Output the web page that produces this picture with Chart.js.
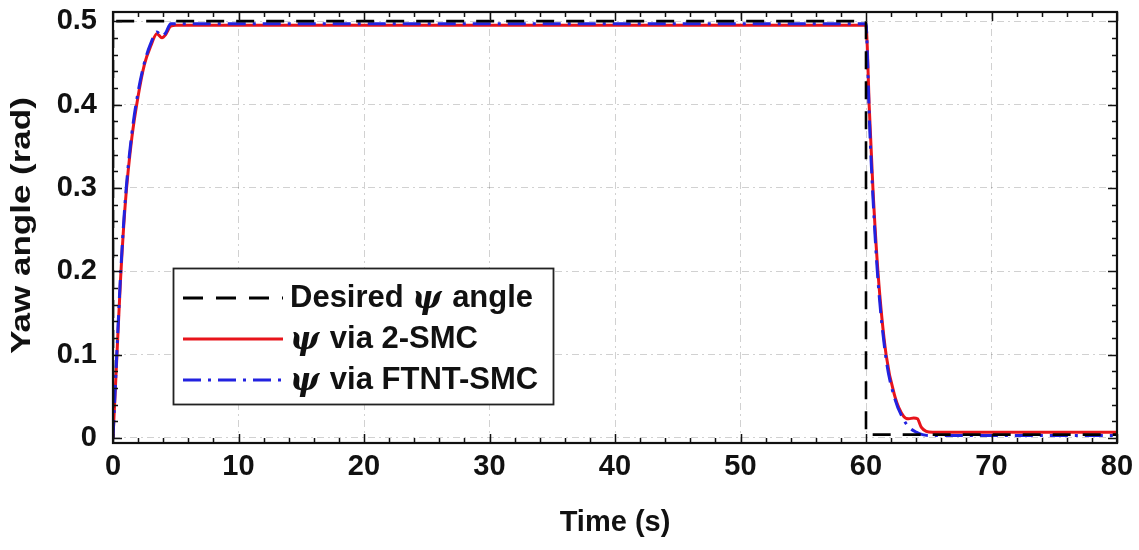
<!DOCTYPE html>
<html>
<head>
<meta charset="utf-8">
<title>Yaw angle</title>
<script src="https://cdn.jsdelivr.net/npm/chart.js@4.4.1/dist/chart.umd.min.js"></script>
<style>
  html, body { margin: 0; padding: 0; background: #fff; }
  #wrap { width: 1139px; height: 550px; }
</style>
</head>
<body>
<div id="wrap"><canvas id="yaw" width="1139" height="550"></canvas></div>
<script>
// ---- data ----
const timeTicks  = [0, 10, 20, 30, 40, 50, 60, 70, 80];
const angleTicks = [0, 0.1, 0.2, 0.3, 0.4, 0.5];

// reference (desired) yaw angle
const desiredT = [0, 0, 60, 60, 80];
const desiredY = [0, 0.5, 0.5, 0.004, 0.004];

// yaw angle via 2-SMC
const smcT = [0, 0.3, 0.6, 1.0, 1.5, 2.0, 2.5, 3.0, 3.5, 3.9, 4.2, 4.6, 5.0,
              60.0, 60.1, 60.25, 60.55, 60.95, 61.6, 62.3, 63.0, 63.4, 63.8, 64.1, 64.4, 64.8, 65.3, 80];
const smcY = [0, 0.095, 0.19, 0.285, 0.36, 0.41, 0.448, 0.47, 0.485, 0.48, 0.484, 0.494, 0.495,
              0.495, 0.47, 0.40, 0.30, 0.20, 0.10, 0.05, 0.026, 0.023, 0.024, 0.023, 0.013, 0.008, 0.007, 0.007];

// yaw angle via FTNT-SMC
const ftntT = [0, 0.3, 0.6, 1.0, 1.5, 2.0, 2.5, 3.0, 3.5, 3.9, 4.2, 4.6,
               60.0, 60.1, 60.25, 60.55, 60.95, 61.6, 62.3, 63.0, 63.5, 64.0, 64.5, 65.0, 80];
const ftntY = [0, 0.10, 0.195, 0.29, 0.365, 0.415, 0.45, 0.473, 0.487, 0.482, 0.486, 0.497,
               0.497, 0.465, 0.39, 0.29, 0.19, 0.095, 0.047, 0.022, 0.012, 0.007, 0.004, 0.003, 0.003];

const legendItems = [
  { pre: 'Desired ', post: ' angle', color: '#000', dash: [20, 13] },
  { pre: '', post: ' via 2-SMC', color: '#e8141b', dash: [] },
  { pre: '', post: ' via FTNT-SMC', color: '#2222e0', dash: [18, 7, 3, 7] }
];

const pts = (xs, ys) => xs.map((x, i) => ({ x: x, y: ys[i] }));

const FONT = "'Liberation Sans', Arial, sans-serif";

// box around the plot + inward major/minor ticks on all four sides
const boxTicks = {
  id: 'boxTicks',
  afterDraw(chart) {
    const { ctx, chartArea: a, scales: { x, y } } = chart;
    ctx.save();
    ctx.strokeStyle = '#111';
    ctx.lineWidth = 1.5;
    ctx.beginPath();
    for (let t = 0; t <= 80; t += 2) {
      const px = Math.round(x.getPixelForValue(t)) + 0.5;
      const len = t % 10 === 0 ? 9 : 5;
      ctx.moveTo(px, a.bottom); ctx.lineTo(px, a.bottom - len);
      ctx.moveTo(px, a.top); ctx.lineTo(px, a.top + len);
    }
    for (let k = 0; k <= 25; k++) {
      const py = Math.round(y.getPixelForValue(k * 0.02)) + 0.5;
      const len = k % 5 === 0 ? 9 : 5;
      ctx.moveTo(a.left, py); ctx.lineTo(a.left + len, py);
      ctx.moveTo(a.right, py); ctx.lineTo(a.right - len, py);
    }
    ctx.stroke();
    ctx.lineWidth = 2.2;
    ctx.strokeRect(a.left, a.top, a.right - a.left, a.bottom - a.top);

    // y axis title, a bit stretched along its length
    ctx.translate(22, (a.top + a.bottom) / 2 - 2);
    ctx.rotate(-Math.PI / 2);
    ctx.scale(1.25, 1);
    ctx.font = 'bold 28px ' + FONT;
    ctx.fillStyle = '#111';
    ctx.textAlign = 'center';
    ctx.textBaseline = 'middle';
    ctx.fillText('Yaw angle (rad)', 0, 0);
    ctx.restore();
  }
};

// legend box in the lower left of the plot
const boxLegend = {
  id: 'boxLegend',
  afterDatasetsDraw(chart) {
    const ctx = chart.ctx;
    const L = 173, T = 268, W = 380, H = 136;
    ctx.save();
    ctx.fillStyle = '#fff';
    ctx.fillRect(L, T, W, H);
    ctx.strokeStyle = '#222';
    ctx.lineWidth = 1.8;
    ctx.strokeRect(L + 0.5, T + 0.5, W, H);
    legendItems.forEach((it, i) => {
      const cy = T + 30 + i * 41;
      ctx.strokeStyle = it.color;
      ctx.lineWidth = 3;
      ctx.setLineDash(it.dash);
      ctx.beginPath();
      ctx.moveTo(183, cy); ctx.lineTo(283, cy);
      ctx.stroke();
      ctx.setLineDash([]);
      ctx.fillStyle = '#111';
      ctx.textBaseline = 'middle';
      let tx = 290;
      ctx.font = 'bold 31px ' + FONT;
      ctx.fillText(it.pre, tx, cy);
      tx += ctx.measureText(it.pre).width;
      ctx.font = "bold italic 31px 'DejaVu Serif', serif";
      ctx.fillText('\u03C8', tx, cy + 2);
      tx += ctx.measureText('\u03C8').width + 2;
      ctx.font = 'bold 31px ' + FONT;
      ctx.fillText(it.post, tx, cy);
    });
    ctx.restore();
  }
};

new Chart(document.getElementById('yaw'), {
  type: 'line',
  data: {
    datasets: [
      { label: 'Desired', data: pts(desiredT, desiredY), borderColor: '#000', borderWidth: 2.6, borderDash: [18, 12] },
      { label: 'FTNT-SMC', data: pts(ftntT, ftntY), borderColor: '#2222e0', borderWidth: 3, borderDash: [18, 7, 3, 7], cubicInterpolationMode: 'monotone' },
      { label: '2-SMC', data: pts(smcT, smcY), borderColor: '#e8141b', borderWidth: 3, cubicInterpolationMode: 'monotone' }
    ]
  },
  options: {
    responsive: false,
    animation: false,
    devicePixelRatio: 1,
    layout: { padding: { top: 12, right: 22, left: 0, bottom: 0 } },
    elements: { point: { radius: 0 }, line: { fill: false } },
    plugins: { legend: { display: false }, tooltip: { enabled: false } },
    scales: {
      x: {
        type: 'linear', min: 0, max: 80,
        afterBuildTicks: s => { s.ticks = timeTicks.map(v => ({ value: v })); },
        afterFit: s => { s.height = 107; s.paddingLeft = 0; s.paddingRight = 0; },
        grid: { color: 'rgba(0,0,0,0.18)', lineWidth: 1, drawTicks: false },
        border: { display: false, dash: [7, 4, 2, 4] },
        ticks: { color: '#111', padding: 7, font: { family: FONT, size: 29, weight: 'bold' } },
        title: { display: true, text: 'Time (s)', color: '#111', padding: { top: 0, bottom: 10 },
                 font: { family: FONT, size: 29, weight: 'bold' } }
      },
      y: {
        min: -0.006, max: 0.511,
        afterBuildTicks: s => { s.ticks = angleTicks.map(v => ({ value: v })); },
        afterFit: s => { s.width = 113; s.paddingTop = 0; s.paddingBottom = 0; },
        grid: { color: 'rgba(0,0,0,0.18)', lineWidth: 1, drawTicks: false },
        border: { display: false, dash: [7, 4, 2, 4] },
        ticks: { color: '#111', padding: 16, font: { family: FONT, size: 29, weight: 'bold' },
                 callback: v => String(v) },
        title: { display: false }
      }
    }
  },
  plugins: [boxLegend, boxTicks]
});
</script>
</body>
</html>
